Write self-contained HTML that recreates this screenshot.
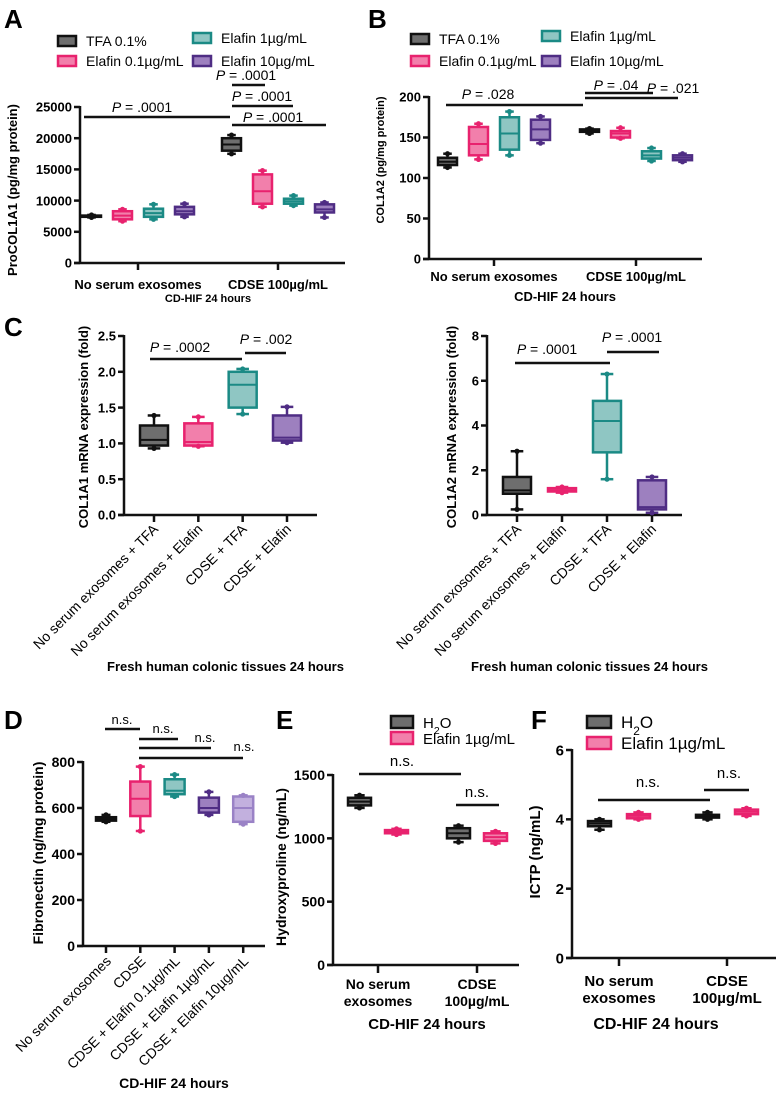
<!DOCTYPE html>
<html><head><meta charset="utf-8">
<style>
html,body{margin:0;padding:0;background:#fff;}
svg{display:block;font-family:"Liberation Sans",Arial,sans-serif;}
</style></head>
<body>
<svg id="fig" width="776" height="1099" viewBox="0 0 776 1099" xmlns="http://www.w3.org/2000/svg">
<g font-weight="bold" font-size="26">
<text x="4" y="28">A</text>
<text x="368" y="28">B</text>
<text x="4" y="336">C</text>
<text x="4" y="729">D</text>
<text x="276" y="729">E</text>
<text x="531" y="729">F</text>
</g>
</svg>
<script>
// ---------- DATA (min, q1, median, q3, max) ----------
const aGroups=['No serum exosomes','CDSE 100µg/mL'];
const aSeries=['TFA 0.1%','Elafin 0.1µg/mL','Elafin 1µg/mL','Elafin 10µg/mL'];
const aTicks=[0,5000,10000,15000,20000,25000];
const aStats=[
 [[7300,7400,7500,7600,7700],[6700,7000,7600,8300,8600],[7000,7400,8000,8700,9400],[7400,7800,8300,9000,9500]],
 [[17500,18000,19000,20000,20500],[9000,9500,11500,14200,14800],[9200,9500,9900,10300,10800],[7300,8100,8600,9400,9700]]
];
const bTicks=[0,50,100,150,200];
const bStats=[
 [[113,116,120,125,130],[123,128,142,163,167],[128,135,155,175,182],[143,147,160,172,176]],
 [[155,157,158,160,161],[149,150,155,158,162],[121,124,128,133,137],[120,122,125,128,130]]
];
const cCats=['No serum exosomes + TFA','No serum exosomes + Elafin','CDSE + TFA','CDSE + Elafin'];
const c1Ticks=[0,0.5,1.0,1.5,2.0,2.5];
const c1Stats=[[0.93,0.97,1.05,1.25,1.39],[0.96,0.97,1.02,1.28,1.37],[1.41,1.50,1.82,2.00,2.04],[1.01,1.04,1.08,1.39,1.51]];
const c2Ticks=[0,2,4,6,8];
const c2Stats=[[0.25,0.95,1.1,1.7,2.85],[1.0,1.05,1.1,1.2,1.25],[1.6,2.8,4.2,5.1,6.3],[0.1,0.25,0.35,1.55,1.7]];
const dCats=['No serum exosomes','CDSE','CDSE + Elafin 0.1µg/mL','CDSE + Elafin 1µg/mL','CDSE + Elafin 10µg/mL'];
const dTicks=[0,200,400,600,800];
const dStats=[[540,545,553,560,570],[500,565,640,715,780],[650,660,675,725,745],[570,580,600,645,670],[530,540,600,650,655]];
const efGroups=[['No serum','exosomes'],['CDSE','100µg/mL']];
const efSeries=['H2O','Elafin 1µg/mL'];
const eTicks=[0,500,1000,1500];
const eStats=[[[1240,1260,1290,1320,1340],[1030,1040,1050,1065,1075]],[[970,1000,1040,1080,1100],[960,980,1010,1040,1055]]];
const fTicks=[0,2,4,6];
const fStats=[[[3.7,3.8,3.88,3.95,4.0],[4.0,4.03,4.1,4.15,4.2]],[[4.0,4.05,4.1,4.13,4.2],[4.1,4.15,4.22,4.28,4.32]]];

// ---------- STYLE ----------
const COL=[{s:'#111',f:'#6e6e6e'},{s:'#e8226e',f:'#f27fab'},{s:'#1b8a85',f:'#8fc6c3'},{s:'#4f2d84',f:'#9d80bf'},{s:'#9a82c6',f:'#c2b0de'}];
const NS='http://www.w3.org/2000/svg';
const svg=document.getElementById('fig');
function el(tag,attrs,parent,txt){const e=document.createElementNS(NS,tag);for(const k in attrs)e.setAttribute(k,attrs[k]);if(txt!==undefined)e.textContent=txt;(parent||svg).appendChild(e);return e;}
function lin(d0,d1,r0,r1){return v=>r0+(v-d0)/(d1-d0)*(r1-r0);}

function axes(g,ax,y0,yTop,xEnd,ticks,yS,fs,fmt){
  const a=el('line',{x1:ax,y1:yTop-1,x2:ax,y2:y0,stroke:'#111','stroke-width':2.5},g);
  
  
  const b=el('line',{x1:ax-6,y1:y0,x2:xEnd,y2:y0,stroke:'#111','stroke-width':2.5},g);
  
  
  ticks.forEach(t=>{
    const y=yS(t);
    el('line',{x1:ax-6,y1:y,x2:ax,y2:y,stroke:'#111','stroke-width':2.5},g);
    const tx=el('text',{x:ax-8,y:y+fs*0.36,'text-anchor':'end','font-size':fs,'font-weight':'bold'},g,fmt?fmt(t):String(t));
    
    
  });
}
function box(g,cx,w,st,yS,c,name){
  const bg=el('g',{},g);
  
  
  const [mn,q1,md,q3,mx]=st;const cw=w*0.45;
  el('line',{x1:cx,y1:yS(q3),x2:cx,y2:yS(mx),stroke:c.s,'stroke-width':2.5},bg);
  el('line',{x1:cx,y1:yS(q1),x2:cx,y2:yS(mn),stroke:c.s,'stroke-width':2.5},bg);
  el('line',{x1:cx-cw/2,y1:yS(mx),x2:cx+cw/2,y2:yS(mx),stroke:c.s,'stroke-width':2.5},bg);
  el('line',{x1:cx-cw/2,y1:yS(mn),x2:cx+cw/2,y2:yS(mn),stroke:c.s,'stroke-width':2.5},bg);
  el('rect',{x:cx-w/2,y:yS(q3),width:w,height:Math.max(1,yS(q1)-yS(q3)),fill:c.f,stroke:c.s,'stroke-width':2.5},bg);
  el('line',{x1:cx-w/2,y1:yS(md),x2:cx+w/2,y2:yS(md),stroke:c.s,'stroke-width':2},bg);
  [mn,mx].forEach(v=>el('circle',{cx:cx,cy:yS(v),r:2.6,fill:c.s},bg));
}
function sig(g,x1,x2,y,label,tx,ty,fs,italicP){
  const l=el('line',{x1:x1,y1:y,x2:x2,y2:y,stroke:'#111','stroke-width':2.5},g);
  
  
  const t=el('text',{x:tx,y:ty,'text-anchor':'middle','font-size':fs},g);
  
  
  if(italicP){el('tspan',{'font-style':'italic'},t,'P');el('tspan',{},t,' = '+label);}else t.textContent=label;
}
function ylabel(g,x,y,txt,fs){
  const t=el('text',{x:0,y:0,transform:`translate(${x},${y}) rotate(-90)`,'text-anchor':'middle','font-size':fs,'font-weight':'bold'},g,txt);
  
  
}
function legend4(g,x1,x2,yA,yB){
  const pos=[[x1,yA+3],[x1,yB],[x2,yA],[x2,yB]];
  aSeries.forEach((s,i)=>{
    const lg=el('g',{},g);
    
    
    el('rect',{x:pos[i][0],y:pos[i][1]-5,width:18,height:10,fill:COL[i].f,stroke:COL[i].s,'stroke-width':2.5},lg);
    el('text',{x:pos[i][0]+28,y:pos[i][1]+5,'font-size':14},lg,s);
  });
}

// ---------- PANEL A ----------
(function(){
  const g=el('g',{});
  const yS=lin(0,25000,263,107);
  axes(g,80,263,107,345,aTicks,yS,13);
  const gc=[138,278];
  gc.forEach((c,i)=>{el('line',{x1:c,y1:263,x2:c,y2:270,stroke:'#111','stroke-width':2.5},g);
    const t=el('text',{x:c,y:289,'text-anchor':'middle','font-size':13,'font-weight':'bold'},g,aGroups[i]);
    });
  aStats.forEach((grp,gi)=>grp.forEach((st,si)=>box(g,gc[gi]+(si-1.5)*31,19,st,yS,COL[si],'box-a-'+gi+'-'+si)));
  const xt=el('text',{x:208,y:302,'text-anchor':'middle','font-size':11,'font-weight':'bold'},g,'CD-HIF 24 hours');
  
  ylabel(g,17,190,'ProCOL1A1 (pg/mg protein)',13);
  legend4(g,58,193,38,61);
  sig(g,84,230,117,'.0001',142,112,14,true);
  sig(g,232,265,85,'.0001',246,80,14,true);
  sig(g,232,293,106,'.0001',262,101,14,true);
  sig(g,232,326,125,'.0001',273,122,14,true);
})();

// ---------- PANEL B ----------
(function(){
  const g=el('g',{});
  const yS=lin(0,200,259,97);
  axes(g,429,259,97,702,bTicks,yS,13);
  const gc=[494,636];
  gc.forEach((c,i)=>{el('line',{x1:c,y1:259,x2:c,y2:266,stroke:'#111','stroke-width':2.5},g);
    const t=el('text',{x:c,y:281,'text-anchor':'middle','font-size':13,'font-weight':'bold'},g,aGroups[i]);
    });
  bStats.forEach((grp,gi)=>grp.forEach((st,si)=>box(g,gc[gi]+(si-1.5)*31,19,st,yS,COL[si],'box-b-'+gi+'-'+si)));
  const xt=el('text',{x:565,y:301,'text-anchor':'middle','font-size':13,'font-weight':'bold'},g,'CD-HIF 24 hours');
  
  ylabel(g,384,160,'COL1A2 (pg/mg protein)',11);
  legend4(g,411,542,36,61);
  sig(g,446,583,105,'.028',488,99,14,true);
  sig(g,585,653,93,'.04',616,90,14,true);
  sig(g,585,678,98,'.021',673,93,14,true);
})();

// ---------- PANEL C ----------
function panelC(name,ax,xEnd,ticks,stats,ylab,ylx,fmt,sigs){
  const g=el('g',{});
  const yS=lin(0,ticks[ticks.length-1],515,336);
  axes(g,ax,515,336,xEnd,ticks,yS,13,fmt);
  const x0=ax+30,step=(xEnd-ax-60)/3;
  cCats.forEach((c,i)=>{const x=x0+i*step;
    el('line',{x1:x,y1:515,x2:x,y2:522,stroke:'#111','stroke-width':2.5},g);
    const t=el('text',{x:0,y:0,transform:`translate(${x+5},${530}) rotate(-45)`,'text-anchor':'end','font-size':14},g,c);
    
    box(g,x,28,stats[i],yS,COL[i],'box-'+name+'-'+i);});
  const xt=el('text',{x:(ax+xEnd)/2+5,y:671,'text-anchor':'middle','font-size':13,'font-weight':'bold'},g,'Fresh human colonic tissues 24 hours');
  
  ylabel(g,ylx,427,ylab,13);
  sigs.forEach(s=>sig(g,s[0],s[1],s[2],s[3],s[4],s[5],14,true));
}
panelC('panel-c-col1a1',124,317,c1Ticks,c1Stats,'COL1A1 mRNA expression  (fold)',88,t=>t.toFixed(1),
  [[150,242,359,'.0002',180,352],[245,286,353,'.002',266,344]]);
panelC('panel-c-col1a2',487,682,c2Ticks,c2Stats,'COL1A2 mRNA expression  (fold)',456,null,
  [[515,610,363,'.0001',547,354],[607,659,352,'.0001',632,342]]);

// ---------- PANEL D ----------
(function(){
  const g=el('g',{});
  const yS=lin(0,800,946,762);
  axes(g,83,946,762,265,dTicks,yS,14);
  dCats.forEach((c,i)=>{const x=106+i*34.3;
    el('line',{x1:x,y1:946,x2:x,y2:953,stroke:'#111','stroke-width':2.5},g);
    const t=el('text',{x:0,y:0,transform:`translate(${x+6},${962}) rotate(-45)`,'text-anchor':'end','font-size':14},g,c);
    
    box(g,x,20,dStats[i],yS,COL[i],'box-d-'+i);});
  const xt=el('text',{x:174,y:1088,'text-anchor':'middle','font-size':14,'font-weight':'bold'},g,'CD-HIF 24 hours');
  
  ylabel(g,43,853,'Fibronectin (ng/mg protein)',14);
  sig(g,105,140,729,'n.s.',122,724,13,false);
  sig(g,139,178,739,'n.s.',163,733,13,false);
  sig(g,139,211,748,'n.s.',205,742,13,false);
  sig(g,139,243,758,'n.s.',244,751,13,false);
})();

// ---------- PANELS E / F ----------
function panelEF(name,ax,y0,yTop,xEnd,ticks,stats,gc,off,ylab,ylx,yly,leg,fs,sigs,xlY,titleX){
  const g=el('g',{});
  const yS=lin(0,ticks[ticks.length-1],y0,yTop);
  axes(g,ax,y0,yTop,xEnd,ticks,yS,fs);
  gc.forEach((c,i)=>{
    el('line',{x1:c,y1:y0,x2:c,y2:y0+8,stroke:'#111','stroke-width':2.5},g);
    efGroups[i].forEach((ln,j)=>{const t=el('text',{x:c,y:xlY+j*17,'text-anchor':'middle','font-size':fs,'font-weight':'bold'},g,ln);
      });
    stats[i].forEach((st,si)=>box(g,c+(si-0.5)*off,23,st,yS,COL[si],'box-'+name+'-'+i+'-'+si));
  });
  const xt=el('text',{x:titleX,y:1029,'text-anchor':'middle','font-size':fs+1,'font-weight':'bold'},g,'CD-HIF 24 hours');
  
  ylabel(g,ylx,yly,ylab,fs);
  efSeries.forEach((s,i)=>{
    const lg=el('g',{},g);
    const y=leg[1]+i*leg[2];
    el('rect',{x:leg[0],y:y-6,width:leg[3],height:12,fill:COL[i].f,stroke:COL[i].s,'stroke-width':2.5},lg);
    const t=el('text',{x:leg[0]+leg[3]+10,y:y+6,'font-size':leg[4]},lg);
    if(i===0){t.appendChild(document.createTextNode('H'));el('tspan',{'baseline-shift':'sub','font-size':leg[4]*0.7},t,'2');el('tspan',{},t,'O');}
    else t.textContent=s;
  });
  sigs.forEach(s=>sig(g,s[0],s[1],s[2],'n.s.',s[3],s[4],15,false));
}
panelEF('panel-e',333,965,775,519,eTicks,eStats,[378,477],37,'Hydroxyproline (ng/mL)',286,867,[391,722,16,22,15],14,
  [[359,461,774,402,766],[456,499,805,477,797]],989,427);
panelEF('panel-f',572,958,750,776,fTicks,fStats,[619,727],39,'ICTP (ng/mL)',540,852,[587,722,21,24,17],15,
  [[598,710,800,648,787],[704,749,790,729,778]],986,656);
</script>
</body></html>
